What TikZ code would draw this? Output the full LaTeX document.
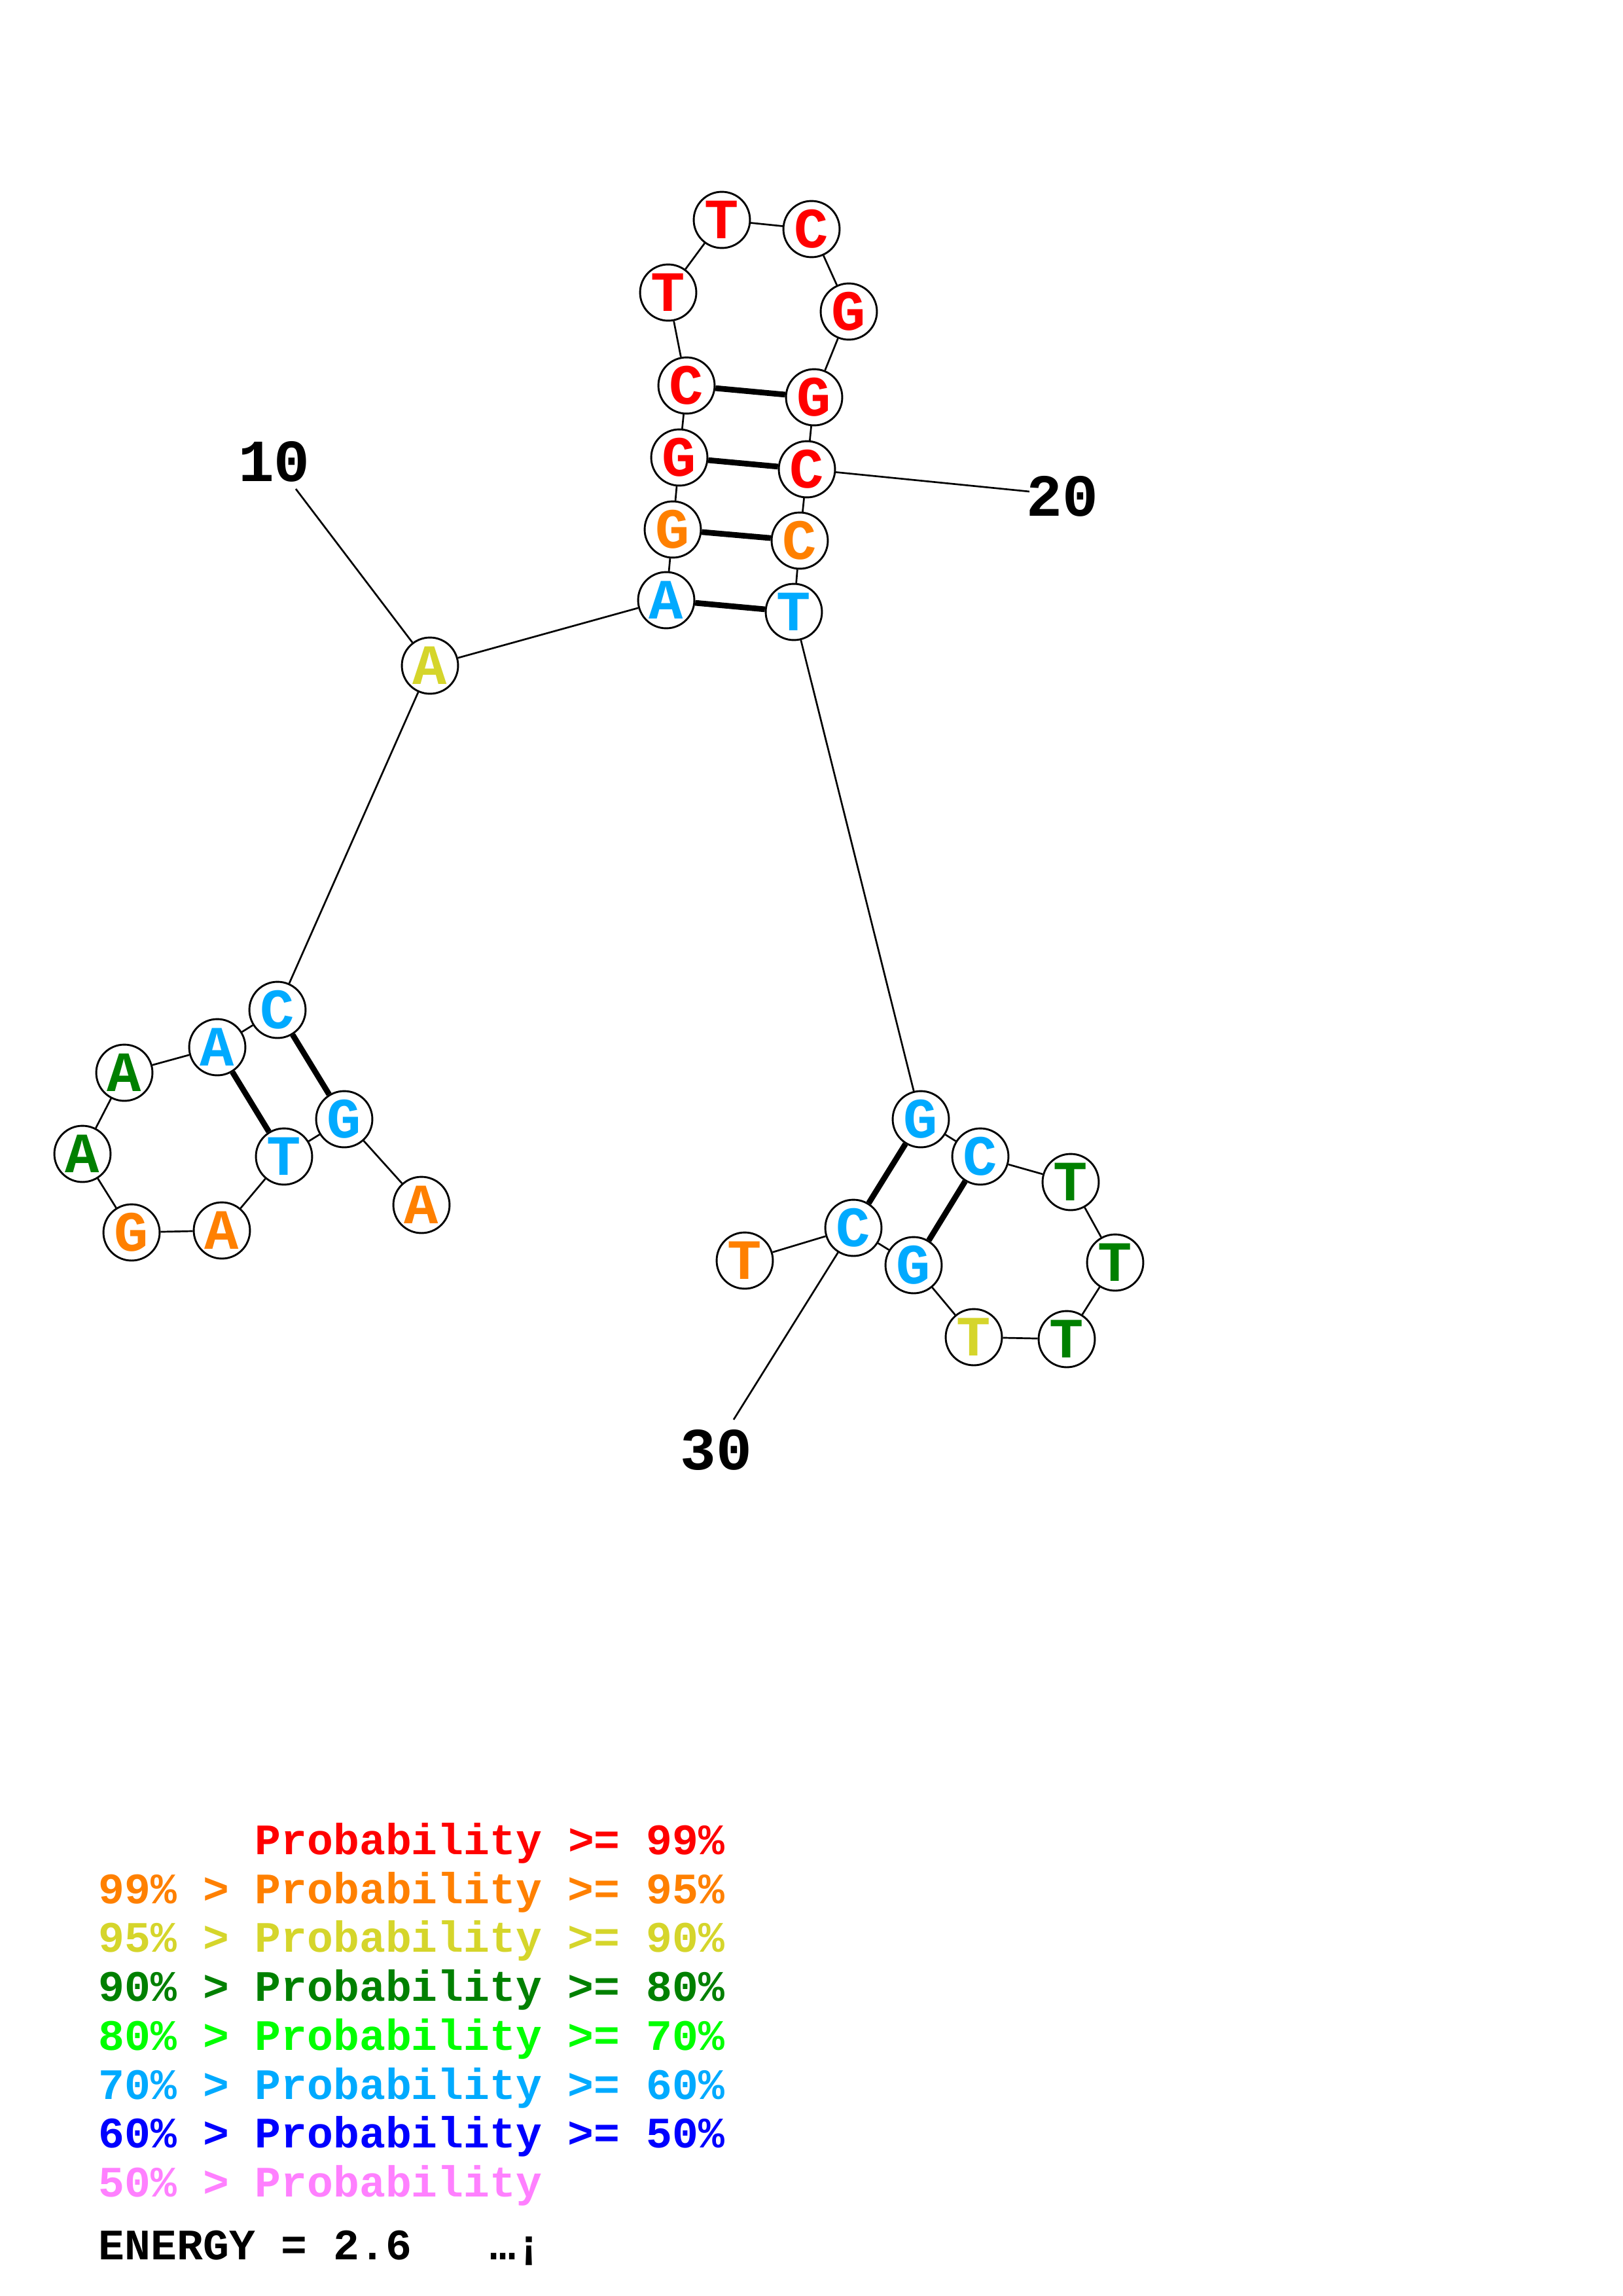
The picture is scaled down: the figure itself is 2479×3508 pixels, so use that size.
\documentclass[tikz,border=0pt]{standalone}
\usepackage{fontspec}
\setmonofont{Liberation Mono}
\usepackage{tikz}
\definecolor{p99}{RGB}{255,0,0}
\definecolor{p95}{RGB}{255,128,0}
\definecolor{p90}{RGB}{213,213,43}
\definecolor{p80}{RGB}{0,128,0}
\definecolor{p70}{RGB}{0,255,0}
\definecolor{p60}{RGB}{0,170,255}
\definecolor{p50}{RGB}{0,0,255}
\definecolor{plow}{RGB}{255,128,255}
\tikzset{
	nt/.style={circle,draw,fill=white,line width=0.7pt,minimum size=20.7pt,inner sep=0pt,font=\ttfamily\bfseries\fontsize{21}{21}\selectfont},
	bb/.style={line width=0.65pt},
	bp/.style={line width=2.1pt},
	num/.style={inner sep=0pt,font=\ttfamily\bfseries\fontsize{22}{22}\selectfont},
	key/.style={anchor=base west,inner sep=0pt,font=\ttfamily\bfseries\fontsize{16}{16}\selectfont}
}

\begin{document}
\begin{tikzpicture}[x=0.0084667cm,y=-0.0084667cm]
				\useasboundingbox (0,0) rectangle (2479,3508);
				\node[nt,text=p95] (n1) at (644,1841) {A};
				\node[nt,text=p60] (n2) at (526,1710) {G};
				\node[nt,text=p60] (n3) at (434,1767) {T};
				\node[nt,text=p95] (n4) at (339,1880) {A};
				\node[nt,text=p95] (n5) at (201,1883) {G};
				\node[nt,text=p80] (n6) at (126,1763) {A};
				\node[nt,text=p80] (n7) at (190,1639) {A};
				\node[nt,text=p60] (n8) at (332,1600) {A};
				\node[nt,text=p60] (n9) at (424,1543) {C};
				\node[nt,text=p90] (n10) at (657,1017) {A};
				\node[nt,text=p60] (n11) at (1018,917) {A};
				\node[nt,text=p95] (n12) at (1028,809) {G};
				\node[nt,text=p99] (n13) at (1038,699) {G};
				\node[nt,text=p99] (n14) at (1049,589) {C};
				\node[nt,text=p99] (n15) at (1021,447) {T};
				\node[nt,text=p99] (n16) at (1103,336) {T};
				\node[nt,text=p99] (n17) at (1240,350) {C};
				\node[nt,text=p99] (n18) at (1297,476) {G};
				\node[nt,text=p99] (n19) at (1244,607) {G};
				\node[nt,text=p99] (n20) at (1233,717) {C};
				\node[nt,text=p95] (n21) at (1222,826) {C};
				\node[nt,text=p60] (n22) at (1213,935) {T};
				\node[nt,text=p60] (n23) at (1407,1710) {G};
				\node[nt,text=p60] (n24) at (1498,1767) {C};
				\node[nt,text=p80] (n25) at (1636,1806) {T};
				\node[nt,text=p80] (n26) at (1704,1929) {T};
				\node[nt,text=p80] (n27) at (1630,2046) {T};
				\node[nt,text=p90] (n28) at (1488,2043) {T};
				\node[nt,text=p60] (n29) at (1396,1933) {G};
				\node[nt,text=p60] (n30) at (1304,1876) {C};
				\node[nt,text=p95] (n31) at (1138,1926) {T};
				
				\draw[bb] (n1)--(n2)--(n3)--(n4)--(n5)--(n6)--(n7)--(n8)--(n9)--(n10)--(n11);
				\draw[bb] (n11)--(n12)--(n13)--(n14)--(n15)--(n16)--(n17)--(n18)--(n19)--(n20)--(n21)--(n22);
				\draw[bb] (n22)--(n23)--(n24)--(n25)--(n26)--(n27)--(n28)--(n29)--(n30)--(n31);
				\draw[bp] (n8)--(n3);
				\draw[bp] (n9)--(n2);
				\draw[bp] (n11)--(n22);
				\draw[bp] (n12)--(n21);
				\draw[bp] (n13)--(n20);
				\draw[bp] (n14)--(n19);
				\draw[bp] (n23)--(n30);
				\draw[bp] (n24)--(n29);
				
				\coordinate (e10) at (452,747);
				\coordinate (e20) at (1573,751);
				\coordinate (e30) at (1121,2169);
				\draw[bb] (n10)--(e10);
				\draw[bb] (n20)--(e20);
				\draw[bb] (n30)--(e30);
				\node[num] (t10) at (419,705) {10};
				\node[num] (t20) at (1623,758) {20};
				\node[num] (t30) at (1094,2215) {30};
				
				\node[key,text=p99] (k1) at (150,2833) {\phantom{99\% > }Probability >= 99\%};
				\node[key,text=p95] (k2) at (150,2908) {99\% > Probability >= 95\%};
				\node[key,text=p90] (k3) at (150,2982) {95\% > Probability >= 90\%};
				\node[key,text=p80] (k4) at (150,3057) {90\% > Probability >= 80\%};
				\node[key,text=p70] (k5) at (150,3132) {80\% > Probability >= 70\%};
				\node[key,text=p60] (k6) at (150,3207) {70\% > Probability >= 60\%};
				\node[key,text=p50] (k7) at (150,3281) {60\% > Probability >= 50\%};
				\node[key,text=plow] (k8) at (150,3356) {50\% > Probability};
				\node[key] (en) at (150,3452) {ENERGY = 2.6\ \ \ …¡};
			\end{tikzpicture}
\end{document}
